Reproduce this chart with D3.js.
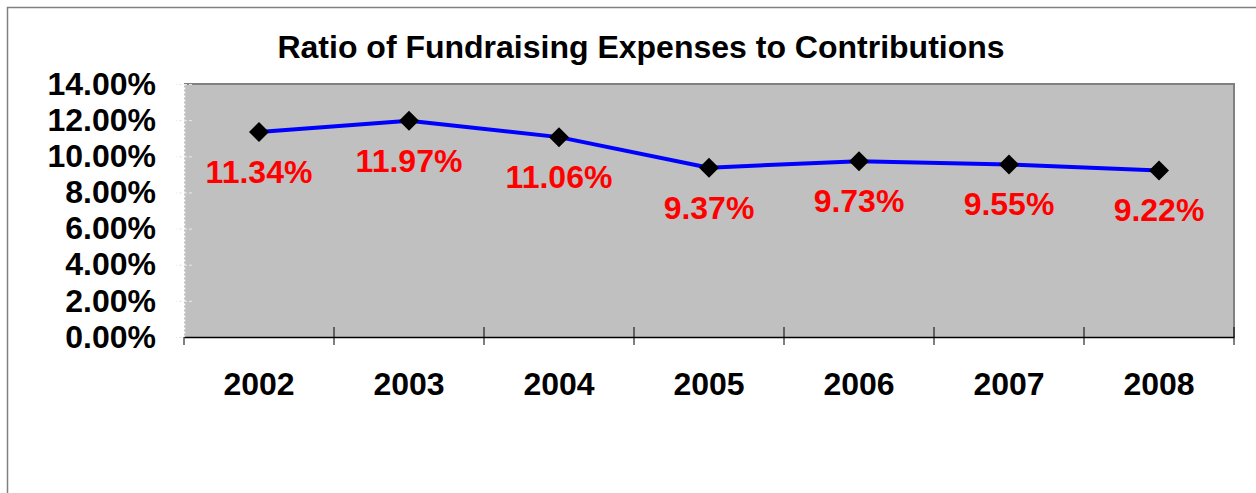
<!DOCTYPE html>
<html>
<head>
<meta charset="utf-8">
<script src="https://cdn.jsdelivr.net/npm/d3@7"></script>
<style>
  html, body { margin: 0; padding: 0; background: #ffffff; }
  svg { display: block; }
  text { font-family: Arial, "Liberation Sans", Helvetica, sans-serif; font-weight: bold; }
</style>
</head>
<body>
<svg id="chart" width="1256" height="493"></svg>
<script>
const categories = ["2002", "2003", "2004", "2005", "2006", "2007", "2008"];
const ratioValues = [11.34, 11.97, 11.06, 9.37, 9.73, 9.55, 9.22];
const valueLabels = ["11.34%", "11.97%", "11.06%", "9.37%", "9.73%", "9.55%", "9.22%"];
const yTicks = [0, 2, 4, 6, 8, 10, 12, 14];
const yTickLabels = ["0.00%", "2.00%", "4.00%", "6.00%", "8.00%", "10.00%", "12.00%", "14.00%"];
const titleText = "Ratio of Fundraising Expenses to Contributions";

const svg = d3.select("#chart");
const W = 1256, H = 493;

// outer chart frame
svg.append("rect")
  .attr("x", 7.5).attr("y", 7.5)
  .attr("width", W + 10).attr("height", H + 10)
  .attr("fill", "#ffffff")
  .attr("stroke", "#808080").attr("stroke-width", 1.5);

const plot = { left: 184, top: 84, right: 1234, bottom: 337 };

const x = d3.scaleBand()
  .domain(categories)
  .range([plot.left, plot.right])
  .paddingInner(0).paddingOuter(0);

const y = d3.scaleLinear()
  .domain([0, 14])
  .range([plot.bottom, plot.top]);

// plot area
svg.append("rect")
  .attr("x", plot.left).attr("y", plot.top)
  .attr("width", plot.right - plot.left).attr("height", plot.bottom - plot.top)
  .attr("fill", "#c0c0c0");

// top and right border
svg.append("path")
  .attr("d", `M${plot.left},${plot.top} H${plot.right} V${plot.bottom}`)
  .attr("fill", "none").attr("stroke", "#808080").attr("stroke-width", 2);

// title
svg.append("text")
  .attr("x", 641).attr("y", 58)
  .attr("text-anchor", "middle")
  .attr("font-size", 32)
  .attr("fill", "#000")
  .text(titleText);

// Y axis
const yAxis = d3.axisLeft(y)
  .tickValues(yTicks)
  .tickFormat((d, i) => yTickLabels[i])
  .tickSizeInner(8).tickSizeOuter(0).tickPadding(20);

const gy = svg.append("g")
  .attr("transform", `translate(${plot.left},0)`)
  .call(yAxis);
gy.select(".domain")
  .attr("stroke", "#ffffff").attr("stroke-width", 1.5)
  .attr("stroke-dasharray", "2,2");
gy.selectAll(".tick line")
  .attr("x1", 8)
  .attr("stroke", "#e8e8e8").attr("stroke-width", 1)
  .attr("stroke-dasharray", "3,2");
gy.selectAll(".tick text")
  .attr("font-size", 32)
  .attr("fill", "#000")
  .attr("font-family", "Arial, 'Liberation Sans', sans-serif")
  .attr("font-weight", "bold");

// X axis
const xAxis = d3.axisBottom(x).tickSize(0).tickPadding(35);
const gx = svg.append("g")
  .attr("transform", `translate(0,${plot.bottom})`)
  .call(xAxis);
gx.select(".domain").attr("stroke", "#000").attr("stroke-width", 1.5);
gx.selectAll(".tick text")
  .attr("font-size", 32)
  .attr("fill", "#000")
  .attr("font-family", "Arial, 'Liberation Sans', sans-serif")
  .attr("font-weight", "bold");

// category boundary tick marks
const boundaries = categories.map(c => x(c)).concat([x.range()[1]]);
svg.append("g").selectAll("line")
  .data(boundaries)
  .join("line")
  .attr("x1", d => d).attr("x2", d => d)
  .attr("y1", (d, i) => (i === 0 ? plot.bottom : plot.bottom - 10))
  .attr("y2", plot.bottom + 8)
  .attr("stroke", "#000").attr("stroke-width", 1);

// line
const pts = categories.map((c, i) => ({ c, v: ratioValues[i], label: valueLabels[i] }));
const line = d3.line()
  .x(d => x(d.c) + x.bandwidth() / 2)
  .y(d => y(d.v));

svg.append("path")
  .datum(pts)
  .attr("d", line)
  .attr("fill", "none")
  .attr("stroke", "#0000ff")
  .attr("stroke-width", 4)
  .attr("stroke-linejoin", "round");

// diamond markers
const diamond = d3.symbol().type(d3.symbolSquare).size(200);
svg.append("g").selectAll("path")
  .data(pts)
  .join("path")
  .attr("d", diamond)
  .attr("transform", d => `translate(${x(d.c) + x.bandwidth() / 2},${y(d.v)}) rotate(45)`)
  .attr("fill", "#000");

// data labels
svg.append("g").selectAll("text")
  .data(pts)
  .join("text")
  .attr("x", d => x(d.c) + x.bandwidth() / 2)
  .attr("y", d => y(d.v) + 51)
  .attr("text-anchor", "middle")
  .attr("font-size", 32)
  .attr("fill", "#ff0000")
  .text(d => d.label);
</script>
</body>
</html>
